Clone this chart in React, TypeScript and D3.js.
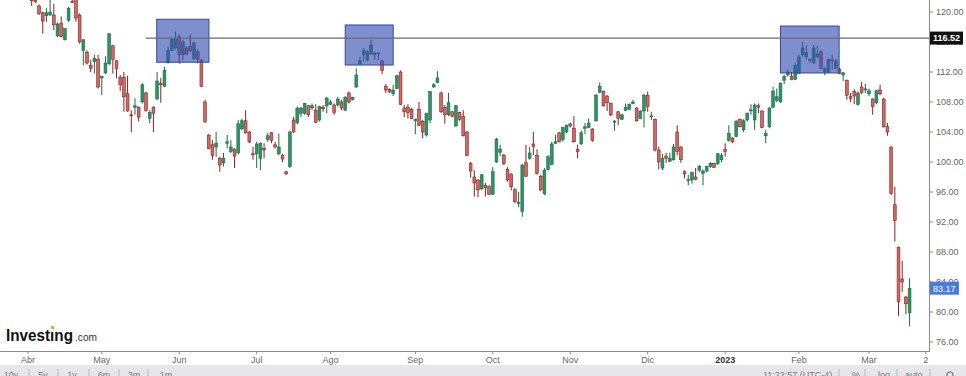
import React from 'react';
import * as d3 from 'd3';

// Daily OHLC, one entry per trading day starting 1 Apr 2022
const opens = [122.5,121.9,121.6,120.8,119.9,119.5,119.6,119.6,116.8,118.5,116.3,118.9,121.4,122.0,119.6,114.9,114.6,112.9,113.4,113.7,111.2,111.9,113.1,115.5,113.5,111.3,111.3,109.1,106.3,107.3,107.3,108.0,109.2,105.8,107.3,108.4,110.5,110.1,113.2,114.9,115.2,116.7,114.3,115.2,115.4,113.8,114.7,113.6,108.0,103.6,102.3,102.0,100.5,99.9,102.5,101.4,101.7,101.2,104.4,105.5,104.0,101.1,101.1,100.5,101.8,103.0,103.9,102.3,101.1,100.9,98.7,99.4,105.6,105.2,106.5,106.5,107.5,107.2,106.9,105.6,107.3,107.5,107.7,107.6,107.6,108.0,106.9,109.2,108.3,110.0,113.1,114.3,113.6,114.4,114.5,114.5,113.5,110.1,109.7,109.1,109.8,112.0,107.2,107.3,107.0,105.6,107.0,105.4,103.6,105.6,110.0,110.6,109.2,107.3,106.3,106.7,104.8,106.6,106.1,104.0,99.8,98.0,97.6,96.4,96.9,96.7,95.7,100.0,101.3,100.9,99.0,98.4,96.3,94.5,93.4,99.9,100.5,102.4,100.9,98.1,95.8,99.0,99.7,102.5,103.9,103.0,104.0,105.1,104.5,101.7,102.4,104.5,104.6,104.4,105.5,109.3,109.4,108.8,107.8,105.4,106.7,105.7,106.9,107.0,107.8,107.2,105.8,106.8,108.9,106.1,105.7,101.6,99.2,100.8,100.1,100.3,104.0,102.0,98.7,97.6,97.6,98.0,98.9,98.5,98.8,99.4,99.8,99.8,100.3,101.7,102.9,103.2,103.4,105.7,104.3,105.6,106.9,105.6,107.5,106.8,103.5,104.7,107.3,108.2,108.0,110.9,111.6,111.4,111.0,111.8,114.3,114.0,113.6,113.2,114.0,114.7,112.0,112.0,113.6,112.5,112.4,111.6,110.9,108.7,109.4,107.7,110.0,109.7,109.1,108.4,107.9,109.6,108.4,104.7,102.0,94.3,88.6,84.4,82.0,79.9];
const highs = [123.2,122.3,121.9,121.0,120.0,120.5,121.6,121.1,118.6,119.4,117.8,120.7,121.6,122.4,119.8,116.3,114.9,113.6,114.3,114.3,111.5,114.1,117.2,115.6,113.6,111.6,112.0,111.5,106.9,108.5,107.4,110.5,109.4,106.9,107.4,112.0,111.2,112.7,115.4,116.4,117.4,117.0,116.3,115.4,117.0,116.0,115.0,113.7,108.3,103.7,102.9,104.0,100.7,101.2,103.6,102.9,101.8,105.6,105.8,106.9,104.1,102.0,102.7,102.6,102.5,103.9,104.0,102.7,103.8,101.1,98.8,104.2,106.0,107.4,107.3,107.9,107.6,107.8,107.7,107.5,107.6,108.7,108.3,107.8,108.7,108.3,108.8,109.4,108.7,112.5,114.0,115.2,114.9,116.3,114.7,114.6,113.6,110.4,109.8,110.3,111.6,112.2,107.6,107.7,107.2,105.8,108.0,105.6,106.5,109.4,110.5,112.1,109.4,107.6,109.2,106.8,107.6,106.7,106.9,104.1,100.0,98.9,97.7,98.4,97.2,96.9,99.3,103.2,102.3,101.1,99.3,98.5,96.5,96.0,99.7,102.3,102.0,104.0,101.7,98.3,99.2,100.9,102.7,103.6,104.0,104.7,105.0,105.2,106.1,102.3,104.2,105.2,105.8,104.5,109.1,110.6,109.5,108.9,107.9,105.6,106.8,106.4,107.8,107.8,108.3,107.3,106.9,109.1,109.4,106.7,105.8,102.0,101.1,101.2,101.2,102.4,104.9,102.1,98.9,98.3,98.7,99.2,99.6,99.0,99.5,100.0,99.9,101.2,101.2,102.5,104.9,103.3,105.6,105.8,105.7,106.6,107.7,107.8,107.8,106.9,104.3,107.3,110.0,109.8,110.6,111.6,112.3,112.0,113.2,114.3,116.0,115.5,113.8,115.6,115.5,114.9,112.6,113.8,114.3,113.7,112.5,112.0,111.0,109.2,109.7,109.4,110.7,110.4,109.8,108.5,109.6,110.3,108.5,105.2,102.1,96.7,88.7,86.8,82.1,84.5];
const lows = [121.8,120.8,121.2,119.6,117.1,118.7,119.5,117.6,116.7,116.6,116.2,118.7,121.2,118.7,115.8,112.9,113.0,112.0,111.8,109.8,108.9,111.7,112.9,111.8,111.2,109.5,106.7,106.7,104.0,106.3,105.4,107.8,106.7,105.2,104.0,108.3,107.9,110.0,113.2,114.8,115.0,113.1,113.6,114.3,114.7,113.6,113.2,110.0,105.2,101.7,100.3,100.7,98.7,99.4,101.8,101.2,99.2,101.1,104.3,103.8,102.5,100.3,99.2,98.9,100.5,102.7,102.5,101.8,100.9,100.0,98.3,99.2,103.9,105.1,106.0,106.3,106.0,106.9,105.2,105.4,106.7,106.5,107.6,106.3,107.4,106.9,106.8,107.8,108.2,109.9,112.9,113.4,113.4,114.3,113.6,113.6,111.7,109.2,109.2,108.8,109.7,107.6,106.0,105.8,105.7,103.7,104.8,103.2,103.4,105.2,109.9,110.5,106.5,105.1,106.1,106.0,104.7,105.5,103.4,100.8,97.9,95.4,95.3,96.3,95.4,95.6,95.6,99.9,100.8,99.6,97.4,96.2,94.5,94.0,92.7,98.0,100.3,100.9,98.3,96.1,95.6,98.9,99.6,102.4,102.6,102.7,103.8,104.6,102.6,100.5,102.3,103.7,104.5,102.7,105.4,109.2,107.4,106.8,106.1,104.2,104.9,105.6,106.8,106.9,107.7,105.4,105.7,104.6,106.7,105.6,101.4,99.0,98.9,99.9,100.0,100.2,100.9,99.9,97.8,96.9,97.1,97.6,98.7,96.9,98.6,99.2,99.2,99.6,100.0,100.7,102.7,102.5,103.3,104.6,104.0,105.4,106.3,104.3,106.5,104.5,102.5,104.5,107.2,108.0,107.9,110.4,111.4,110.9,110.9,111.7,114.0,113.7,113.2,113.1,113.9,112.4,111.6,111.9,112.3,112.4,111.7,110.8,108.3,108.0,107.7,107.5,109.1,109.2,108.8,106.3,107.7,108.9,104.6,103.5,95.6,89.4,79.5,82.7,79.7,78.1];
const closes = [122.2,121.5,121.4,119.8,118.8,119.9,120.0,118.3,118.4,116.7,117.8,120.5,121.3,119.2,116.0,116.3,113.2,112.5,113.8,110.0,111.4,113.2,117.1,113.7,112.5,110.3,108.7,106.8,106.2,107.5,106.0,110.3,106.9,106.6,106.5,110.8,110.3,112.2,114.9,116.4,116.5,114.3,116.0,114.4,114.8,115.9,113.7,110.1,105.4,101.8,100.9,102.5,99.6,100.5,102.7,102.0,100.8,105.1,105.5,103.9,102.7,101.0,102.4,102.5,101.6,103.5,102.9,102.0,102.0,100.4,98.4,104.0,104.0,107.2,107.2,107.8,106.3,107.5,105.3,107.4,107.1,108.5,108.0,106.6,108.4,107.2,108.6,108.0,108.6,111.6,113.5,114.9,114.7,115.6,114.4,114.55,112.2,109.6,109.4,109.6,111.5,107.7,106.7,106.6,105.8,105.65,104.9,104.0,106.5,109.4,110.3,111.2,106.7,106.3,107.9,106.1,107.5,105.7,103.5,100.9,98.8,97.2,96.3,98.3,96.6,95.7,98.7,103.0,101.7,99.8,97.6,96.7,94.7,94.6,99.6,98.1,101.2,102.1,98.5,96.3,98.9,100.7,102.4,102.7,102.7,104.6,104.9,104.8,102.7,101.4,103.9,104.7,105.2,102.9,108.9,110.1,107.5,107.9,106.3,105.45,105.8,106.3,107.3,107.7,108.0,105.5,106.8,108.9,107.4,106.15,101.6,100.0,100.5,100.5,100.5,102.0,101.4,100.3,98.4,97.65,98.6,97.7,99.4,98.8,99.4,99.8,99.3,101.1,100.9,101.4,103.8,102.7,105.4,104.7,105.5,106.5,106.95,107.6,107.3,104.6,103.8,107.2,109.4,108.7,110.5,111.4,112.0,111.0,112.9,114.0,115.2,114.6,113.65,115.2,114.4,112.5,112.5,113.7,113.5,113.5,111.8,111.9,108.9,108.5,108.8,109.2,109.25,109.75,109.5,107.4,109.5,109.1,104.7,104.0,95.8,92.2,81.4,84.0,81.1,83.17];

// Axis ticks (trading-day index of month starts) and labels
const monthTickIndex = [0, 20, 41, 62, 82, 105, 126, 147, 168, 189, 209, 228, 243.4];
const monthLabels = ['Abr', 'May', 'Jun', 'Jul', 'Ago', 'Sep', 'Oct', 'Nov', 'Dic', '2023', 'Feb', 'Mar', '2'];
const priceTicks = [76, 80, 84, 88, 92, 96, 100, 104, 108, 112, 116, 120];

// Annotations
const levelPrice = 116.52;
const levelStartIndex = 32;
const lastPrice = 83.17;
const zoneStart = [34.9, 86.0, 204.0];
const zoneEnd = [49.05, 99.0, 219.9];
const zoneTop = [119.03, 118.27, 118.13];
const zoneBottom = [113.3, 112.93, 111.87];

const stripLeft = ['10y', '5y', '1y', '6m', '3m', '1m'];
const stripRight = ['11:22:57 (UTC-4)', '%', 'log', 'auto'];

const FONT = '"Liberation Sans", Arial, Helvetica, sans-serif';

export default function App() {
  const W = 966, H = 376;
  const plotRight = 929, plotBottom = 351;
  const x = d3.scaleLinear().domain([0, 228]).range([28, 869]);
  const y = d3.scaleLinear().domain([76, 120]).range([342, 12]);
  const bw = 2.8;
  const fmt = d3.format('.2f');

  const upFill = '#2f9464', upStroke = '#1c6b45';
  const dnFill = '#cc6a66', dnStroke = '#8a1f1f';

  const stripLeftX = [11, 43, 72, 104, 134, 166];
  const stripSep = [29, 58, 89, 119, 148];
  const stripRightX = [763, 852, 878, 905];
  const stripRightSep = [839, 865, 897, 930];

  return (
    <svg width={W} height={H} style={{ position: 'absolute', left: 0, top: 0, background: '#fff' }} fontFamily={FONT}>
      <defs>
        <clipPath id="plot">
          <rect x={0} y={0} width={plotRight} height={plotBottom} />
        </clipPath>
      </defs>
      <rect x={0} y={0} width={W} height={H} fill="#fff" />
      <g clipPath="url(#plot)">
        {opens.map((o, i) => {
          const c = closes[i];
          const up = c >= o;
          const xc = x(i);
          const top = y(Math.max(o, c));
          const bot = y(Math.min(o, c));
          const stroke = up ? upStroke : dnStroke;
          return (
            <g key={i}>
              <line x1={xc} x2={xc} y1={y(highs[i])} y2={y(lows[i])} stroke={stroke} strokeWidth={1} />
              <rect x={xc - bw / 2} y={top} width={bw} height={Math.max(bot - top, 1)}
                fill={up ? upFill : dnFill} stroke={stroke} strokeWidth={0.6} />
            </g>
          );
        })}
        {zoneStart.map((s, k) => (
          <rect key={k} x={x(s)} y={y(zoneTop[k])} width={x(zoneEnd[k]) - x(s)}
            height={y(zoneBottom[k]) - y(zoneTop[k])}
            fill="rgba(55,78,178,0.64)" stroke="#34489f" strokeWidth={1} />
        ))}
        <line x1={x(levelStartIndex)} x2={plotRight} y1={y(levelPrice)} y2={y(levelPrice)} stroke="#6a6a6a" strokeWidth={1.3} />
      </g>

      {/* right axis */}
      <line x1={plotRight + 0.5} x2={plotRight + 0.5} y1={0} y2={plotBottom} stroke="#8a8a8a" strokeWidth={1} />
      {priceTicks.map((t) => (
        <g key={t}>
          <line x1={plotRight} x2={plotRight + 4} y1={y(t)} y2={y(t)} stroke="#8a8a8a" />
          <text x={936} y={y(t) + 3.2} fontSize={9} fill="#666">{fmt(t)}</text>
        </g>
      ))}
      <rect x={930} y={y(levelPrice) - 6.5} width={33} height={13} fill="#111" />
      <text x={933} y={y(levelPrice) + 3.3} fontSize={9} fontWeight="bold" fill="#fff">{fmt(levelPrice)}</text>
      <rect x={930} y={y(lastPrice) - 6.5} width={29} height={13} fill="#4a7be3" />
      <text x={933} y={y(lastPrice) + 3.3} fontSize={9} fill="#fff">{fmt(lastPrice)}</text>

      {/* bottom axis */}
      <line x1={0} x2={plotRight + 1} y1={plotBottom + 0.5} y2={plotBottom + 0.5} stroke="#8a8a8a" strokeWidth={1} />
      {monthTickIndex.map((m, k) => (
        <g key={k}>
          <line x1={x(m)} x2={x(m)} y1={plotBottom} y2={plotBottom + 3} stroke="#8a8a8a" />
          <text x={x(m)} y={362.5} fontSize={9} textAnchor="middle" fill={monthLabels[k] === '2023' ? '#333' : '#666'}
            fontWeight={monthLabels[k] === '2023' ? 'bold' : 'normal'}>{monthLabels[k]}</text>
        </g>
      ))}

      {/* logo */}
      <text x={6} y={341} fontSize={17} fontWeight="bold" fill="#111" textLength={67} lengthAdjust="spacingAndGlyphs">Investıng</text>
      <circle cx={52.6} cy={327.5} r={1.8} fill="#f5a11c" />
      <text x={75} y={341} fontSize={11.5} fill="#333" textLength={22} lengthAdjust="spacingAndGlyphs">.com</text>

      {/* bottom toolbar strip */}
      <rect x={0} y={365} width={W} height={11} fill="#e6e6eb" />
      {stripLeft.map((s, k) => (
        <text key={k} x={stripLeftX[k]} y={378} fontSize={9} textAnchor="middle" fill="#777">{s}</text>
      ))}
      {stripSep.map((s, k) => (
        <line key={k} x1={s} x2={s} y1={369} y2={376} stroke="#bbb" />
      ))}
      {stripRight.map((s, k) => (
        <text key={k} x={stripRightX[k]} y={378} fontSize={9} fill="#777">{s}</text>
      ))}
      {stripRightSep.map((s, k) => (
        <line key={k} x1={s} x2={s} y1={369} y2={376} stroke="#bbb" />
      ))}
      <circle cx={950} cy={375} r={3} fill="none" stroke="#777" strokeWidth={1.2} />
    </svg>
  );
}
